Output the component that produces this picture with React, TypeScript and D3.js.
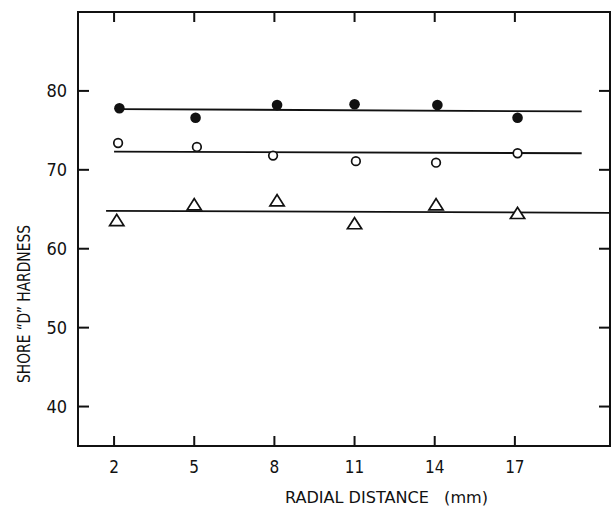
import React from "react";
import * as d3 from "d3";

// Radial positions (mm) of the tick marks
const xTicks = [2, 5, 8, 11, 14, 17];
const yTicks = [40, 50, 60, 70, 80];

// Measured Shore "D" hardness along the radius
const filledX = [2.2, 5.05, 8.1, 11.0, 14.1, 17.1];
const filledY = [77.8, 76.6, 78.2, 78.3, 78.2, 76.6];

const openX = [2.15, 5.1, 7.95, 11.05, 14.05, 17.1];
const openY = [73.4, 72.9, 71.8, 71.1, 70.9, 72.1];

const triX = [2.1, 5.0, 8.1, 11.0, 14.05, 17.1];
const triY = [63.4, 65.4, 65.9, 63.0, 65.4, 64.3];

// Fitted lines (start / end)
const filledFit: [number, number][] = [[2.2, 77.7], [19.5, 77.4]];
const openFit: [number, number][] = [[2.0, 72.3], [19.5, 72.1]];
const triFit: [number, number][] = [[1.7, 64.8], [20.56, 64.55]];

const W = 616;
const H = 509;
const left = 78, right = 610, top = 12, bottom = 446;

export default function App() {
  const x = d3.scaleLinear().domain([0.65, 20.56]).range([left, right]);
  const y = d3.scaleLinear().domain([35, 90]).range([bottom, top]);
  const line = d3.line<[number, number]>().x(d => x(d[0])).y(d => y(d[1]));
  const tri = d3.symbol().type(d3.symbolTriangle).size(80)();
  const font = "'DejaVu Sans Condensed', 'Liberation Sans Narrow', 'DejaVu Sans', sans-serif";
  const ink = "#111";

  return (
    <svg width={W} height={H} style={{ position: "absolute", left: 0, top: 0, background: "#fff" }}
      fontFamily={font}>
      {/* frame */}
      <rect x={left} y={top} width={right - left} height={bottom - top} fill="none" stroke={ink} strokeWidth={2} />

      {/* x ticks, inward on top and bottom */}
      {xTicks.map(t => (
        <g key={"x" + t}>
          <line x1={x(t)} x2={x(t)} y1={bottom} y2={bottom - 10} stroke={ink} strokeWidth={2} />
          <line x1={x(t)} x2={x(t)} y1={top} y2={top + 10} stroke={ink} strokeWidth={2} />
          <text x={x(t)} y={473} textAnchor="middle" fontSize={17} fill={ink}>{t}</text>
        </g>
      ))}

      {/* y ticks, inward on left and right */}
      {yTicks.map(t => (
        <g key={"y" + t}>
          <line x1={left} x2={left + 11} y1={y(t)} y2={y(t)} stroke={ink} strokeWidth={2} />
          <line x1={right} x2={right - 11} y1={y(t)} y2={y(t)} stroke={ink} strokeWidth={2} />
          <text x={67} y={y(t) + 6} textAnchor="end" fontSize={18} fill={ink}>{t}</text>
        </g>
      ))}

      {/* fitted lines */}
      <path d={line(filledFit) ?? ""} stroke={ink} strokeWidth={1.8} fill="none" />
      <path d={line(openFit) ?? ""} stroke={ink} strokeWidth={1.8} fill="none" />
      <path d={line(triFit) ?? ""} stroke={ink} strokeWidth={1.8} fill="none" />

      {/* filled circles */}
      {filledX.map((v, i) => (
        <circle key={"f" + i} cx={x(v)} cy={y(filledY[i])} r={5.3} fill={ink} />
      ))}
      {/* open circles */}
      {openX.map((v, i) => (
        <circle key={"o" + i} cx={x(v)} cy={y(openY[i])} r={4.3} fill="#fff" stroke={ink} strokeWidth={1.7} />
      ))}
      {/* triangles */}
      {triX.map((v, i) => (
        <path key={"t" + i} d={tri ?? ""} transform={`translate(${x(v)},${y(triY[i])}) scale(1.05,0.95)`}
          fill="#fff" stroke={ink} strokeWidth={1.7} />
      ))}

      {/* axis titles */}
      <text x={285} y={503} fontSize={16} fill={ink} textLength={203} lengthAdjust="spacingAndGlyphs">
        RADIAL DISTANCE {"\u00a0\u00a0"}(mm)
      </text>
      <text transform="translate(30,383) rotate(-90)" fontSize={17} fill={ink}
        textLength={158} lengthAdjust="spacingAndGlyphs">
        SHORE {"\u201cD\u201d"} HARDNESS
      </text>
    </svg>
  );
}
